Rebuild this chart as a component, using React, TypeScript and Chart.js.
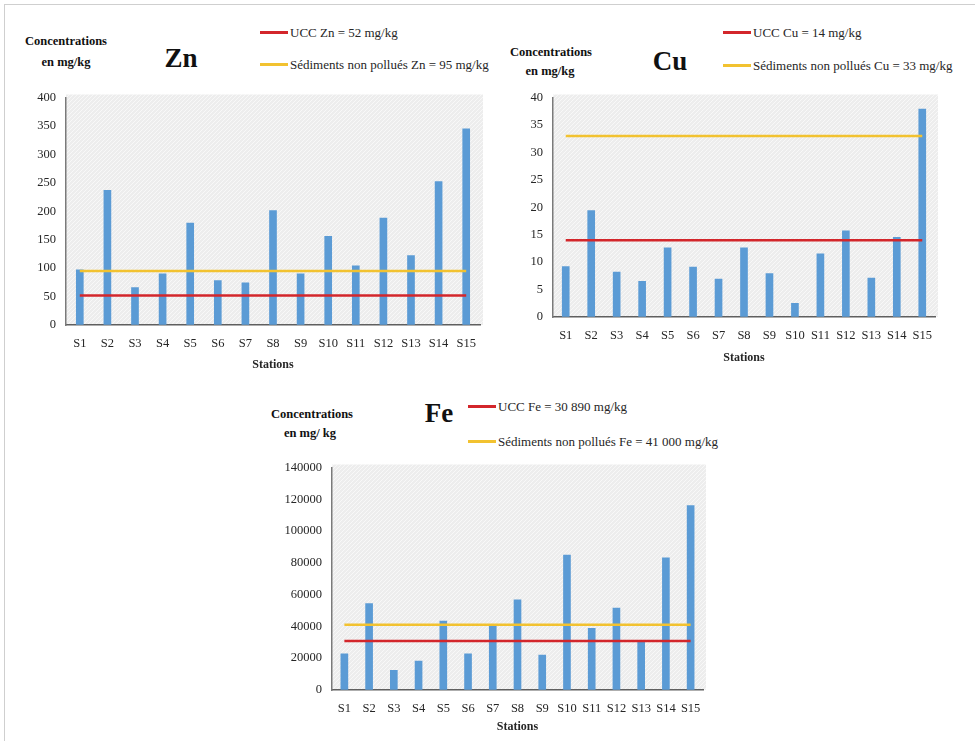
import React, { useEffect, useRef } from "react";
import { Chart, registerables } from "chart.js";

Chart.register(...registerables);

// ---------- Data ----------
const STATIONS = ["S1", "S2", "S3", "S4", "S5", "S6", "S7", "S8", "S9", "S10", "S11", "S12", "S13", "S14", "S15"];

const ZN_VALUES = [97, 237, 66, 90, 179, 78, 74, 201, 90, 156, 104, 188, 122, 252, 345];
const ZN_UCC = 52;
const ZN_BASELINE = 95;
const ZN_MAX = 400;
const ZN_STEP = 50;
const ZN_LEGEND = ["UCC Zn = 52 mg/kg", "Sédiments non pollués Zn = 95 mg/kg"];
const ZN_TITLE = "Zn";
const ZN_YLABEL = ["Concentrations", "en mg/kg"];

const CU_VALUES = [9.2, 19.4, 8.2, 6.5, 12.6, 9.1, 6.9, 12.6, 7.9, 2.5, 11.5, 15.7, 7.1, 14.5, 37.9];
const CU_UCC = 14;
const CU_BASELINE = 33;
const CU_MAX = 40;
const CU_STEP = 5;
const CU_LEGEND = ["UCC Cu = 14 mg/kg", "Sédiments non pollués Cu = 33 mg/kg"];
const CU_TITLE = "Cu";
const CU_YLABEL = ["Concentrations", "en mg/kg"];

const FE_VALUES = [22700, 54300, 12400, 18200, 43400, 22700, 40900, 56800, 21900, 84900, 38800, 51600, 30400, 83200, 116000];
const FE_UCC = 30890;
const FE_BASELINE = 41000;
const FE_MAX = 140000;
const FE_STEP = 20000;
const FE_LEGEND = ["UCC Fe = 30 890 mg/kg", "Sédiments non pollués Fe = 41 000 mg/kg"];
const FE_TITLE = "Fe";
const FE_YLABEL = ["Concentrations", "en mg/ kg"];

const X_TITLE = "Stations";

// ---------- Styles ----------
const SERIF = "'Liberation Serif', 'Times New Roman', serif";
const BLUE = "#5b9bd5";
const RED = "#d3262b";
const YELLOW = "#f2c230";
const TEXT = "#262626";

function makePattern(): CanvasPattern | string {
  const c = document.createElement("canvas");
  c.width = 4;
  c.height = 4;
  const g = c.getContext("2d");
  if (!g) return "#efefef";
  g.fillStyle = "#ededed";
  g.fillRect(0, 0, 4, 4);
  g.strokeStyle = "#f8f8f8";
  g.lineWidth = 1;
  g.beginPath();
  g.moveTo(0, 4);
  g.lineTo(4, 0);
  g.stroke();
  const p = g.createPattern(c, "repeat");
  return p || "#efefef";
}

type PanelProps = {
  values: number[];
  ucc: number;
  baseline: number;
  legend: string[];
  yMax: number;
  yStep: number;
  left: number;
  top: number;
  width: number;
  height: number;
  yAxisWidth: number;
  xAxisHeight: number;
  padTop: number;
  padRight: number;
  xTitlePad: number;
};

function Panel(props: PanelProps) {
  const ref = useRef<HTMLCanvasElement>(null);
  useEffect(() => {
    const canvas = ref.current;
    if (!canvas) return;
    const pattern = makePattern();
    const bgPlugin = {
      id: "plotBg",
      beforeDraw(chart: any) {
        const { ctx, chartArea } = chart;
        ctx.save();
        ctx.fillStyle = pattern;
        ctx.fillRect(chartArea.left, chartArea.top - 3, chartArea.right - chartArea.left + 3, chartArea.bottom - chartArea.top + 3);
        ctx.restore();
      },
    };
    const tickFont = { family: SERIF, size: 12.5 };
    const chart = new Chart(canvas, {
      type: "bar",
      data: {
        labels: STATIONS,
        datasets: [
          {
            type: "line",
            label: props.legend[0],
            data: STATIONS.map(() => props.ucc),
            borderColor: RED,
            backgroundColor: RED,
            borderWidth: 2.5,
            pointRadius: 0,
            pointHoverRadius: 0,
            fill: false,
            order: 0,
          } as any,
          {
            type: "line",
            label: props.legend[1],
            data: STATIONS.map(() => props.baseline),
            borderColor: YELLOW,
            backgroundColor: YELLOW,
            borderWidth: 2.5,
            pointRadius: 0,
            pointHoverRadius: 0,
            fill: false,
            order: 0,
          } as any,
          {
            type: "bar",
            label: "Concentrations",
            data: props.values,
            backgroundColor: BLUE,
            barThickness: 7,
            order: 1,
          } as any,
        ],
      },
      options: {
        animation: false,
        responsive: false,
        maintainAspectRatio: false,
        layout: { autoPadding: false, padding: { top: props.padTop, right: props.padRight, left: 0, bottom: 0 } },
        plugins: { legend: { display: false }, tooltip: { enabled: false }, title: { display: false } },
        scales: {
          x: {
            type: "category",
            offset: true,
            grid: { display: true, drawOnChartArea: false, drawTicks: false },
            border: { display: true, color: "#5f5f5f", width: 1.5 },
            ticks: { font: tickFont, color: TEXT, padding: 11, maxRotation: 0, minRotation: 0, autoSkip: false },
            title: {
              display: true,
              text: X_TITLE,
              font: { family: SERIF, size: 12, weight: "bold" },
              color: TEXT,
              padding: { top: 0, bottom: props.xTitlePad },
            },
            afterFit: (s: any) => {
              s.height = props.xAxisHeight;
            },
          },
          y: {
            min: 0,
            max: props.yMax,
            grid: { display: true, drawOnChartArea: false, drawTicks: false },
            border: { display: true, color: "#7a7a7a", width: 1.5 },
            ticks: {
              stepSize: props.yStep,
              font: tickFont,
              color: TEXT,
              padding: 10,
              callback: (v: any) => String(v),
            },
            afterFit: (s: any) => {
              s.width = props.yAxisWidth;
            },
          },
        },
      } as any,
      plugins: [bgPlugin],
    });
    return () => chart.destroy();
  }, []);
  return (
    <canvas
      ref={ref}
      width={props.width}
      height={props.height}
      style={{ position: "absolute", left: props.left, top: props.top, width: props.width, height: props.height }}
    />
  );
}

function CText({ x, y, text, size, bold }: { x: number; y: number; text: string; size: number; bold?: boolean }) {
  return (
    <div
      style={{
        position: "absolute",
        left: x,
        top: y,
        transform: "translate(-50%, -50%)",
        fontFamily: SERIF,
        fontSize: size,
        fontWeight: bold ? "bold" : "normal",
        color: bold ? "#111" : TEXT,
        whiteSpace: "nowrap",
        lineHeight: 1,
      }}
    >
      {text}
    </div>
  );
}

function LegendItem({ x, y, color, text }: { x: number; y: number; color: string; text: string }) {
  return (
    <>
      <div style={{ position: "absolute", left: x, top: y - 1.5, width: 28, height: 3, background: color }} />
      <div
        style={{
          position: "absolute",
          left: x + 30,
          top: y,
          transform: "translateY(-50%)",
          fontFamily: SERIF,
          fontSize: 13,
          color: TEXT,
          whiteSpace: "nowrap",
          lineHeight: 1,
        }}
      >
        {text}
      </div>
    </>
  );
}

export default function App() {
  return (
    <div style={{ position: "absolute", left: 0, top: 0, width: 975, height: 741, overflow: "hidden", background: "#fff" }}>
      <div
        style={{
          position: "absolute",
          left: 4,
          top: 4,
          width: 980,
          height: 760,
          borderTop: "1px solid #cfcfcf",
          borderLeft: "1px solid #cfcfcf",
        }}
      />

      {/* Zn */}
      <CText x={66} y={41} text={ZN_YLABEL[0]} size={12.5} bold />
      <CText x={66} y={62} text={ZN_YLABEL[1]} size={12.5} bold />
      <CText x={181} y={58} text={ZN_TITLE} size={27} bold />
      <LegendItem x={260} y={32} color={RED} text={ZN_LEGEND[0]} />
      <LegendItem x={260} y={64} color={YELLOW} text={ZN_LEGEND[1]} />
      <Panel
        values={ZN_VALUES}
        ucc={ZN_UCC}
        baseline={ZN_BASELINE}
        legend={ZN_LEGEND}
        yMax={ZN_MAX}
        yStep={ZN_STEP}
        left={20}
        top={80}
        width={470}
        height={300}
        yAxisWidth={46}
        xAxisHeight={55}
        padTop={14}
        padRight={10}
        xTitlePad={8}
      />

      {/* Cu */}
      <CText x={551} y={52} text={CU_YLABEL[0]} size={12.5} bold />
      <CText x={550} y={71} text={CU_YLABEL[1]} size={12.5} bold />
      <CText x={670} y={61} text={CU_TITLE} size={27} bold />
      <LegendItem x={723} y={32} color={RED} text={CU_LEGEND[0]} />
      <LegendItem x={723} y={65} color={YELLOW} text={CU_LEGEND[1]} />
      <Panel
        values={CU_VALUES}
        ucc={CU_UCC}
        baseline={CU_BASELINE}
        legend={CU_LEGEND}
        yMax={CU_MAX}
        yStep={CU_STEP}
        left={505}
        top={80}
        width={440}
        height={300}
        yAxisWidth={48}
        xAxisHeight={63}
        padTop={12}
        padRight={10}
        xTitlePad={15}
      />

      {/* Fe */}
      <CText x={312} y={414} text={FE_YLABEL[0]} size={12.5} bold />
      <CText x={310} y={433} text={FE_YLABEL[1]} size={12.5} bold />
      <CText x={439} y={413} text={FE_TITLE} size={27} bold />
      <LegendItem x={468} y={406} color={RED} text={FE_LEGEND[0]} />
      <LegendItem x={468} y={441} color={YELLOW} text={FE_LEGEND[1]} />
      <Panel
        values={FE_VALUES}
        ucc={FE_UCC}
        baseline={FE_BASELINE}
        legend={FE_LEGEND}
        yMax={FE_MAX}
        yStep={FE_STEP}
        left={260}
        top={450}
        width={455}
        height={290}
        yAxisWidth={72}
        xAxisHeight={50}
        padTop={14}
        padRight={12}
        xTitlePad={6}
      />
    </div>
  );
}
